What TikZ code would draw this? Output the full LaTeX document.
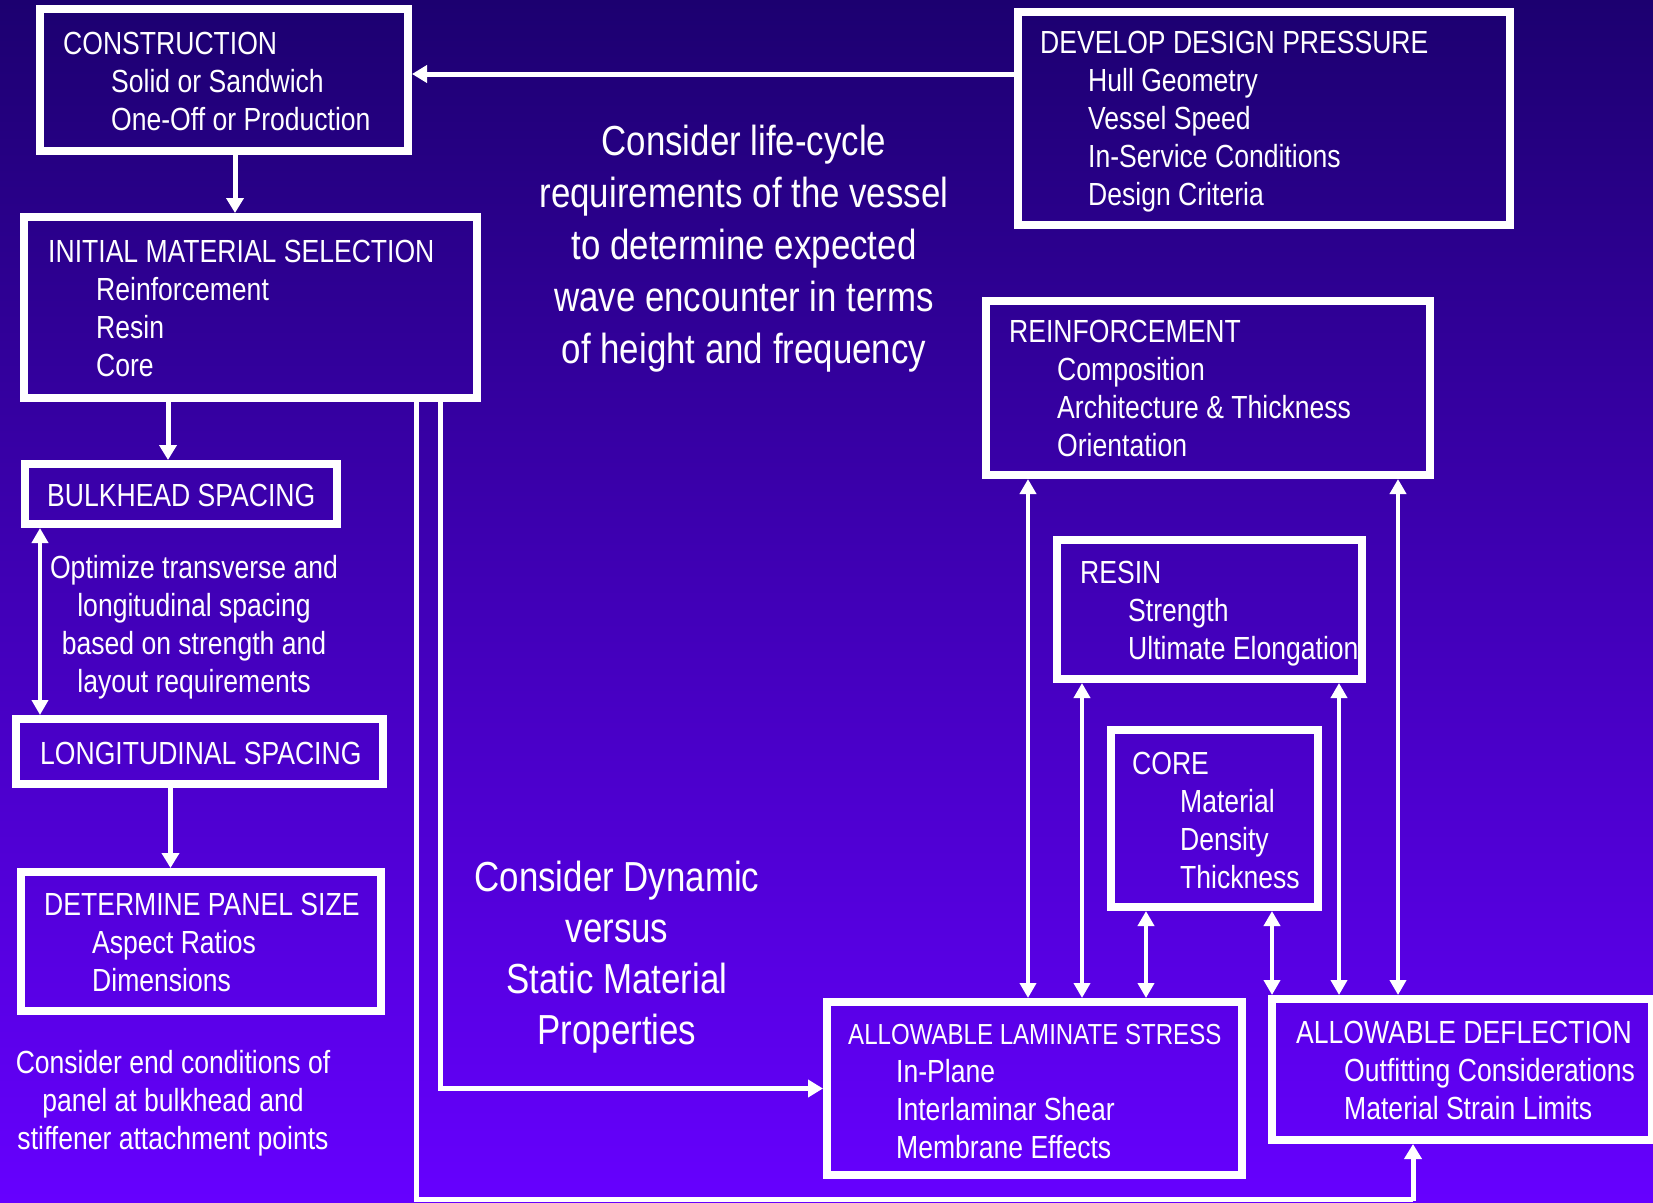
\documentclass[tikz,border=0pt]{standalone}
\usepackage{fontspec}
\setmainfont[FakeStretch=0.83]{Liberation Sans}
\usepackage{tikz}
\usetikzlibrary{
	arrows.meta,
	calc,
	positioning,
}
\definecolor{deepnavy}{RGB}{28,0,112}
\definecolor{brightviolet}{RGB}{102,0,255}
\newcommand{\boxind}{\hspace*{48pt}}
\tikzset{
	box/.style={draw=white, line width=8pt, anchor=north west, inner sep=0pt},
	boxtxt/.style={text=white, anchor=base west, align=left, inner sep=0pt, font=\fontsize{32}{38}\selectfont},
	note/.style={text=white, anchor=base, align=center, inner sep=0pt},
	link/.style={draw=white, line width=5pt, -{Triangle[width=17pt,length=15pt]}},
	twoway/.style={draw=white, line width=4.5pt, {Triangle[width=16pt,length=15pt]}-{Triangle[width=16pt,length=15pt]}},
	wire/.style={draw=white, line width=5pt},
}

\begin{document}
\begin{tikzpicture}[x=1pt, y=-1pt]
				\useasboundingbox (0,0) rectangle (1653,1202);
				\fill[top color=deepnavy, bottom color=brightviolet] (0,0) rectangle (1653,1202);
				\node[box, minimum width=368pt, minimum height=142pt] (cons) at (36,5) {};
				\node[box, minimum width=492pt, minimum height=213pt] (develop) at (1014,8) {};
				\node[box, minimum width=453pt, minimum height=181pt] (init) at (20,213) {};
				\node[box, minimum width=312pt, minimum height=60pt] (bulk) at (21,460) {};
				\node[box, minimum width=367pt, minimum height=65pt] (long) at (12,715) {};
				\node[box, minimum width=360pt, minimum height=139pt] (panel) at (17,868) {};
				\node[box, minimum width=444pt, minimum height=174pt] (reinf) at (982,297) {};
				\node[box, minimum width=305pt, minimum height=139pt] (resin) at (1053,536) {};
				\node[box, minimum width=207pt, minimum height=177pt] (core) at (1107,726) {};
				\node[box, minimum width=415pt, minimum height=173pt] (als) at (823,998) {};
				\node[box, minimum width=380pt, minimum height=141pt] (ald) at (1268,995) {};
				\node[boxtxt] (cons-t) at (63,130) {CONSTRUCTION\\\boxind Solid or Sandwich\\\boxind One-Off or Production};
				\node[boxtxt] (develop-t) at (1040,205) {DEVELOP DESIGN PRESSURE\\\boxind Hull Geometry\\\boxind Vessel Speed\\\boxind In-Service Conditions\\\boxind Design Criteria};
				\node[boxtxt] (init-t) at (48,376) {INITIAL MATERIAL SELECTION\\\boxind Reinforcement\\\boxind Resin\\\boxind Core};
				\node[boxtxt] (bulk-t) at (47,506) {BULKHEAD SPACING};
				\node[boxtxt] (long-t) at (40,764) {LONGITUDINAL SPACING};
				\node[boxtxt] (panel-t) at (44,991) {DETERMINE PANEL SIZE\\\boxind Aspect Ratios\\\boxind Dimensions};
				\node[boxtxt] (reinf-t) at (1009,456) {REINFORCEMENT\\\boxind Composition\\\boxind Architecture \& Thickness\\\boxind Orientation};
				\node[boxtxt] (resin-t) at (1080,659) {RESIN\\\boxind Strength\\\boxind Ultimate Elongation};
				\node[boxtxt] (core-t) at (1132,888) {CORE\\\boxind Material\\\boxind Density\\\boxind Thickness};
				\node[boxtxt] (als-t) at (848,1158) {{\fontsize{29}{38}\selectfont ALLOWABLE LAMINATE STRESS}\\\boxind In-Plane\\\boxind Interlaminar Shear\\\boxind Membrane Effects};
				\node[boxtxt] (ald-t) at (1296,1119) {ALLOWABLE DEFLECTION\\\boxind Outfitting Considerations\\\boxind Material Strain Limits};
				\node[note, font=\fontsize{42}{52}\selectfont] (life) at (744,363) {Consider life-cycle\\requirements of the vessel\\to determine expected\\wave encounter in terms\\of height and frequency};
				\node[note, font=\fontsize{42}{51}\selectfont] (dyn) at (617,1044) {Consider Dynamic\\versus\\Static Material\\Properties};
				\node[note, font=\fontsize{32}{38}\selectfont] (opt) at (194,692) {Optimize transverse and\\longitudinal spacing\\based on strength and\\layout requirements};
				\node[note, font=\fontsize{32}{38}\selectfont] (endc) at (173,1149) {Consider end conditions of\\panel at bulkhead and\\stiffener attachment points};
				\coordinate (a1) at ([yshift=6pt]cons.east);
				\draw[link] (a1 -| develop.west) -- (a1);
				\draw[link] ([xshift=11pt]cons.south) -- ([xshift=11pt]cons.south |- init.north);
				\draw[link] ([xshift=-13pt]bulk.north |- init.south) -- ([xshift=-13pt]bulk.north);
				\draw[twoway] ([xshift=19pt]bulk.south west) -- ([xshift=19pt]bulk.south west |- long.north);
				\draw[link] ([xshift=-29pt]long.south) -- ([xshift=-29pt]long.south |- panel.north);
				\coordinate (w1) at ([xshift=-65pt]init.south east);
				\coordinate (w2) at ([xshift=-41pt]init.south east);
				\coordinate (w3) at ([xshift=-49pt]ald.south);
				\draw[wire] (w1) -- (w1 |- 0,1199) -- (w3 |- 0,1199);
				\draw[link] (w3 |- 0,1201) -- (w3);
				\draw[link] (w2) -- (w2 |- als.west) -- (als.west);
				\draw[twoway] ([xshift=46pt]reinf.south west) -- ([xshift=46pt]reinf.south west |- als.north);
				\draw[twoway] ([xshift=29pt]resin.south west) -- ([xshift=29pt]resin.south west |- als.north);
				\draw[twoway] ([xshift=39pt]core.south west) -- ([xshift=39pt]core.south west |- als.north);
				\draw[twoway] ([xshift=-50pt]core.south east) -- ([xshift=-50pt]core.south east |- ald.north);
				\draw[twoway] ([xshift=-27pt]resin.south east) -- ([xshift=-27pt]resin.south east |- ald.north);
				\draw[twoway] ([xshift=-36pt]reinf.south east) -- ([xshift=-36pt]reinf.south east |- ald.north);
			\end{tikzpicture}
\end{document}
